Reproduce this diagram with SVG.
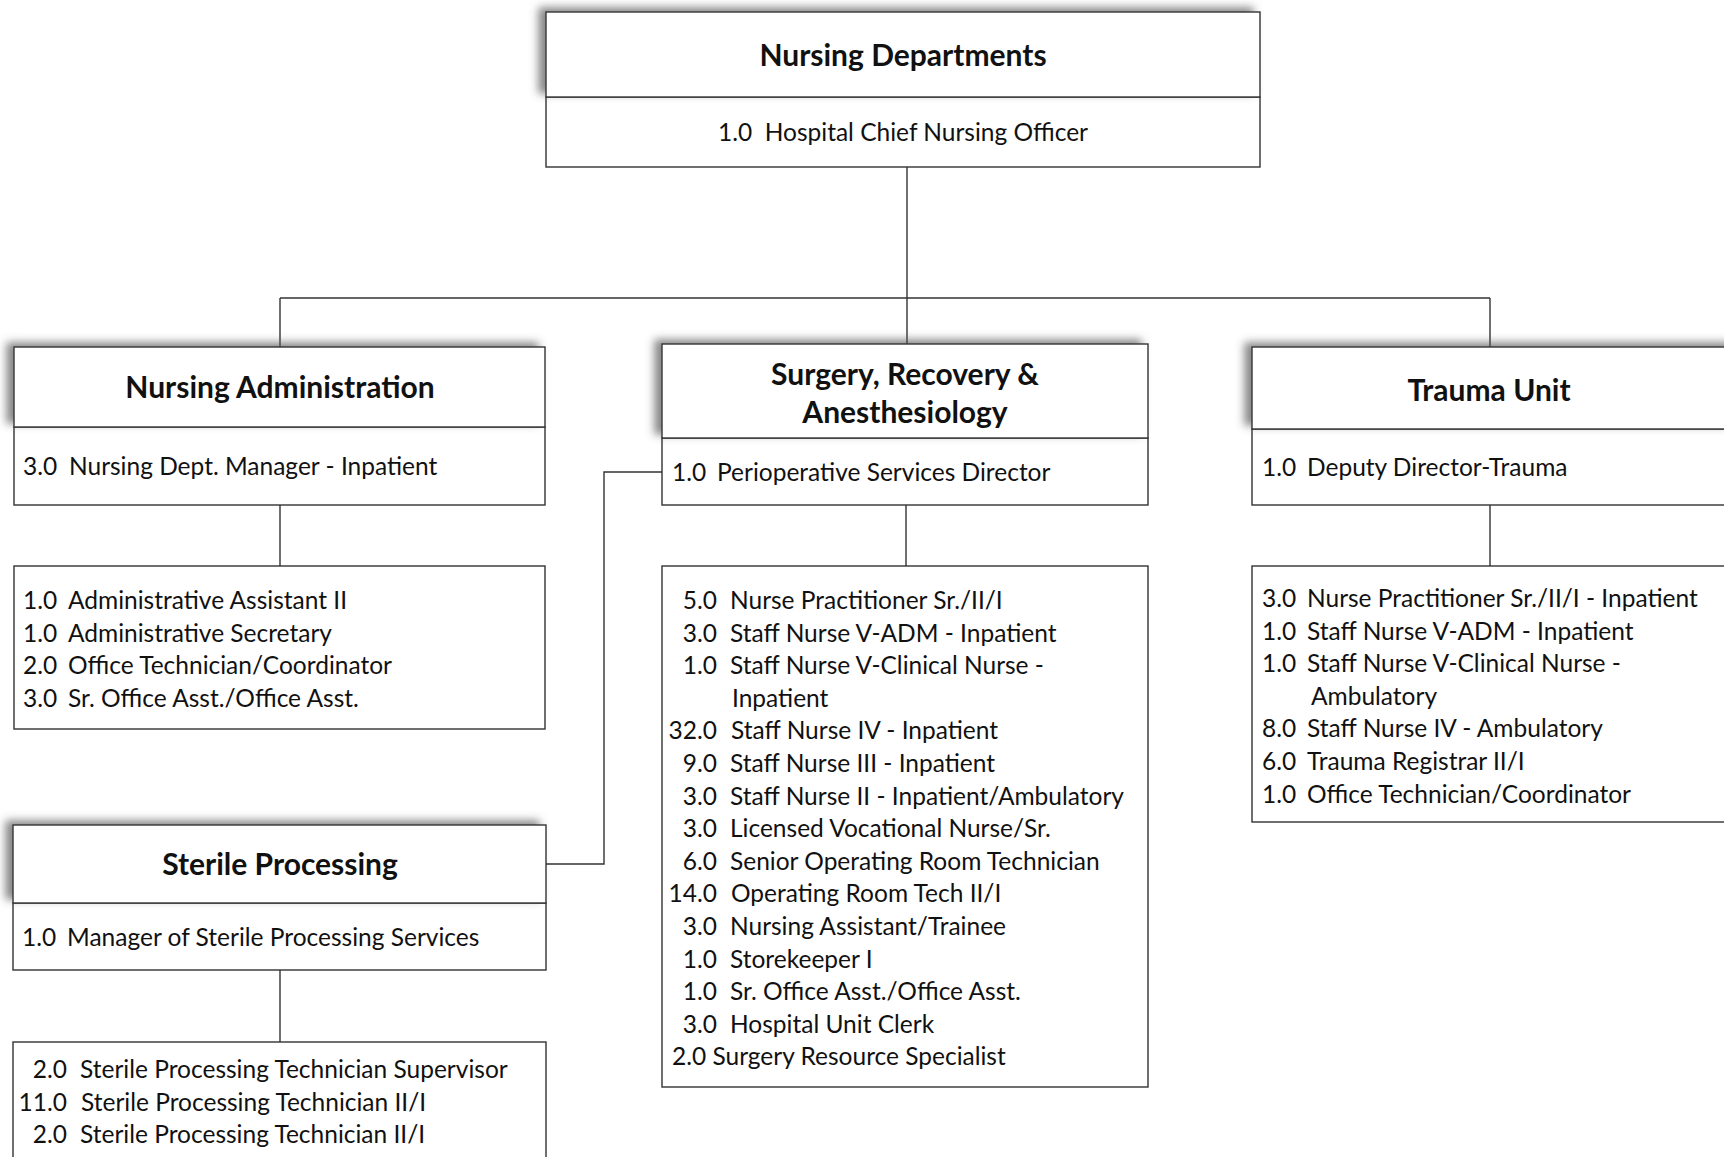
<svg xmlns="http://www.w3.org/2000/svg" width="1724" height="1157" viewBox="0 0 1724 1157">
<defs>
<filter id="sh" x="-10%" y="-30%" width="120%" height="160%">
<feGaussianBlur in="SourceAlpha" stdDeviation="4"/>
<feOffset dx="-7" dy="-4" result="b"/>
<feFlood flood-color="#555" flood-opacity="0.7"/>
<feComposite in2="b" operator="in"/>
<feMerge><feMergeNode/><feMergeNode in="SourceGraphic"/></feMerge>
</filter>
</defs>
<style>
rect{fill:#fff;stroke:#333;stroke-width:1.4}
.hd{filter:url(#sh)}
line,polyline{stroke:#333;stroke-width:1.4;fill:none}
text{font-family:Lato,"Noto Sans",sans-serif;fill:#111;font-size:24.5px}
.t{font-weight:bold;font-size:30px;text-anchor:middle}
.c{text-anchor:middle}
.n{text-anchor:end}
</style>
<rect width="1724" height="1157" style="fill:#fff;stroke:none"/>
<g id="connectors">
<line x1="907" y1="167" x2="907" y2="298"/>
<line x1="280" y1="298" x2="1490" y2="298"/>
<line x1="280" y1="298" x2="280" y2="347"/>
<line x1="907" y1="298" x2="907" y2="344"/>
<line x1="1490" y1="298" x2="1490" y2="347"/>
<line x1="280" y1="505" x2="280" y2="566"/>
<line x1="906" y1="505" x2="906" y2="566"/>
<line x1="1490" y1="505" x2="1490" y2="566"/>
<line x1="280" y1="970" x2="280" y2="1042"/>
<polyline points="546,864 604,864 604,472 662,472"/>
</g>
<g id="nursing-departments">
<rect x="546" y="97" width="714" height="70"/>
<rect class="hd" x="546" y="12" width="714" height="85"/>
<text class="t" x="903" y="66">Nursing Departments</text>
<text class="c" x="903" y="141">1.0&#160; Hospital Chief Nursing Officer</text>
</g>
<g id="nursing-administration">
<rect x="14" y="427" width="531" height="78"/>
<rect class="hd" x="14" y="347" width="531" height="80"/>
<text class="t" x="280" y="398">Nursing Administration</text>
<text x="23" y="475">3.0</text><text x="69" y="475">Nursing Dept. Manager - Inpatient</text>
</g>
<g id="admin-staff">
<rect x="14" y="566" width="531" height="163"/>
<text x="23" y="609">1.0</text><text x="68" y="609">Administrative Assistant II</text>
<text x="23" y="642">1.0</text><text x="68" y="642">Administrative Secretary</text>
<text x="23" y="674">2.0</text><text x="68" y="674">Office Technician/Coordinator</text>
<text x="23" y="707">3.0</text><text x="68" y="707">Sr. Office Asst./Office Asst.</text>
</g>
<g id="surgery">
<rect x="662" y="438" width="486" height="67"/>
<rect class="hd" x="662" y="344" width="486" height="94"/>
<text class="t" x="905" y="385">Surgery, Recovery &amp;</text>
<text class="t" x="905" y="423">Anesthesiology</text>
<text x="672" y="481">1.0</text><text x="717" y="481">Perioperative Services Director</text>
</g>
<g id="surgery-staff">
<rect x="662" y="566" width="486" height="521"/>
<text class="n" x="717" y="609">5.0</text><text x="730" y="609">Nurse Practitioner Sr./II/I</text>
<text class="n" x="717" y="641.6">3.0</text><text x="730" y="641.6">Staff Nurse V-ADM - Inpatient</text>
<text class="n" x="717" y="674.2">1.0</text><text x="730" y="674.2">Staff Nurse V-Clinical Nurse -</text>
<text x="732" y="706.8">Inpatient</text>
<text class="n" x="717" y="739.4">32.0</text><text x="731" y="739.4">Staff Nurse IV - Inpatient</text>
<text class="n" x="717" y="772">9.0</text><text x="730" y="772">Staff Nurse III - Inpatient</text>
<text class="n" x="717" y="804.6">3.0</text><text x="730" y="804.6">Staff Nurse II - Inpatient/Ambulatory</text>
<text class="n" x="717" y="837.2">3.0</text><text x="730" y="837.2">Licensed Vocational Nurse/Sr.</text>
<text class="n" x="717" y="869.8">6.0</text><text x="730" y="869.8">Senior Operating Room Technician</text>
<text class="n" x="717" y="902.4">14.0</text><text x="731" y="902.4">Operating Room Tech II/I</text>
<text class="n" x="717" y="935">3.0</text><text x="730" y="935">Nursing Assistant/Trainee</text>
<text class="n" x="717" y="967.6">1.0</text><text x="730" y="967.6">Storekeeper I</text>
<text class="n" x="717" y="1000.2">1.0</text><text x="730" y="1000.2">Sr. Office Asst./Office Asst.</text>
<text class="n" x="717" y="1032.8">3.0</text><text x="730" y="1032.8">Hospital Unit Clerk</text>
<text x="672" y="1065.4">2.0 Surgery Resource Specialist</text>
</g>
<g id="trauma-unit">
<rect x="1252" y="429" width="490" height="76"/>
<rect class="hd" x="1252" y="347" width="490" height="82"/>
<text class="t" x="1489" y="401">Trauma Unit</text>
<text x="1262" y="476">1.0</text><text x="1307" y="476">Deputy Director-Trauma</text>
</g>
<g id="trauma-staff">
<rect x="1252" y="566" width="490" height="256"/>
<text x="1262" y="607">3.0</text><text x="1307" y="607">Nurse Practitioner Sr./II/I - Inpatient</text>
<text x="1262" y="639.6">1.0</text><text x="1307" y="639.6">Staff Nurse V-ADM - Inpatient</text>
<text x="1262" y="672.2">1.0</text><text x="1307" y="672.2">Staff Nurse V-Clinical Nurse -</text>
<text x="1311" y="704.8">Ambulatory</text>
<text x="1262" y="737.4">8.0</text><text x="1307" y="737.4">Staff Nurse IV - Ambulatory</text>
<text x="1262" y="770">6.0</text><text x="1307" y="770">Trauma Registrar II/I</text>
<text x="1262" y="802.6">1.0</text><text x="1307" y="802.6">Office Technician/Coordinator</text>
</g>
<g id="sterile-processing">
<rect x="13" y="903" width="533" height="67"/>
<rect class="hd" x="13" y="825" width="533" height="78"/>
<text class="t" x="280" y="875">Sterile Processing</text>
<text x="22" y="946">1.0</text><text x="67" y="946">Manager of Sterile Processing Services</text>
</g>
<g id="sterile-staff">
<rect x="13" y="1042" width="533" height="130"/>
<text class="n" x="67" y="1078">2.0</text><text x="80" y="1078">Sterile Processing Technician Supervisor</text>
<text class="n" x="67" y="1110.5">11.0</text><text x="81" y="1110.5">Sterile Processing Technician II/I</text>
<text class="n" x="67" y="1143">2.0</text><text x="80" y="1143">Sterile Processing Technician II/I</text>
</g>
</svg>
